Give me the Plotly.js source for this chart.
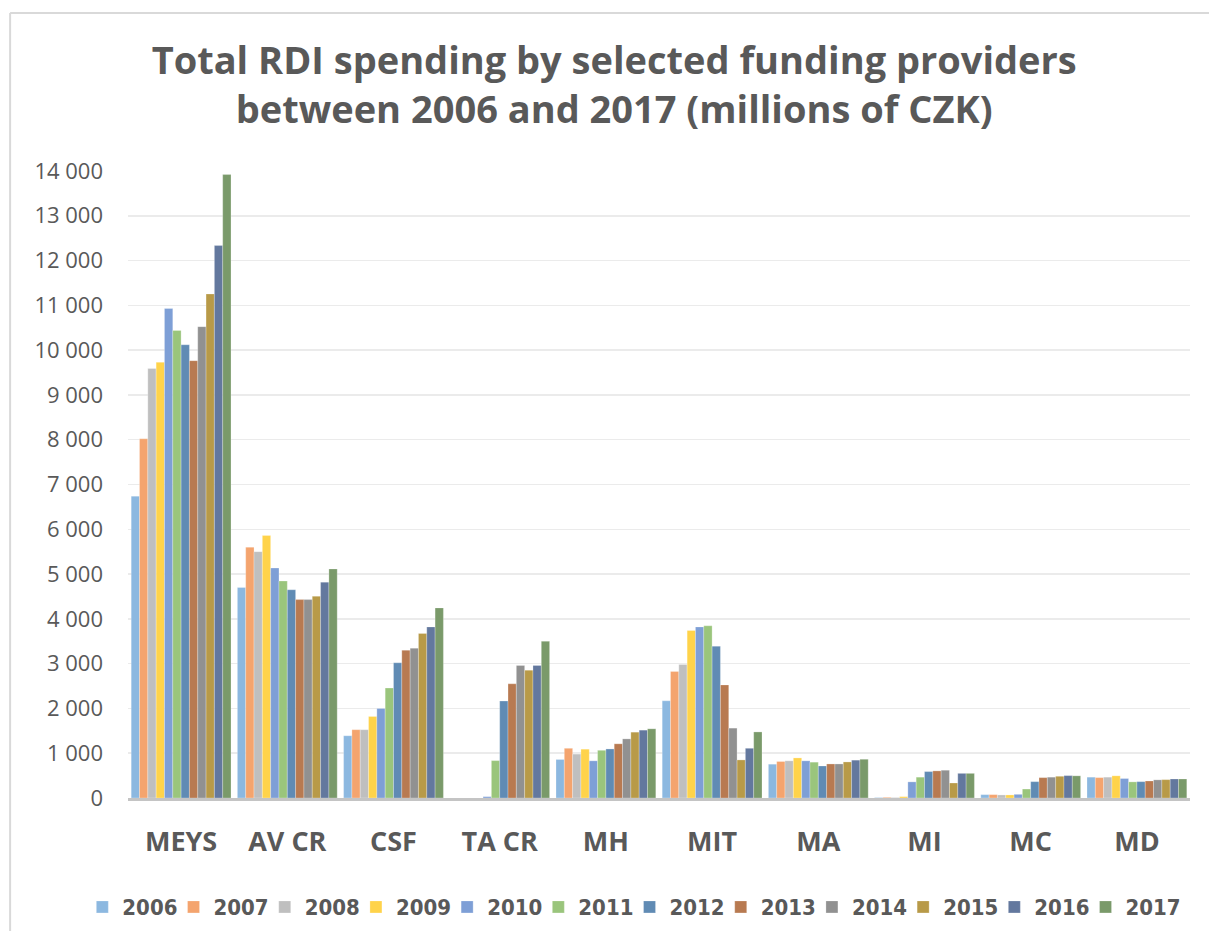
<!DOCTYPE html>
<html>
<head>
<meta charset="utf-8">
<script src="https://cdn.plot.ly/plotly-3.0.1.min.js"></script>
<style>html,body{margin:0;padding:0;background:#fff;}#chart{width:1209px;height:931px;}</style>
</head>
<body>
<div id="chart"></div>
<script>
var providers = ["MEYS", "AV CR", "CSF", "TA CR", "MH", "MIT", "MA", "MI", "MC", "MD"];
var years = ["2006", "2007", "2008", "2009", "2010", "2011", "2012", "2013", "2014", "2015", "2016", "2017"];

// values per year, in the order of providers
var y2006 = [6740, 4700, 1390, 0, 860, 2170, 755, 10, 75, 465];
var y2007 = [8020, 5600, 1525, 0, 1110, 2825, 815, 15, 75, 455];
var y2008 = [9590, 5500, 1525, 0, 980, 2980, 830, 10, 68, 465];
var y2009 = [9730, 5860, 1820, 0, 1090, 3740, 895, 30, 68, 495];
var y2010 = [10930, 5135, 2000, 30, 830, 3820, 830, 360, 82, 435];
var y2011 = [10440, 4845, 2455, 835, 1065, 3845, 800, 465, 200, 360];
var y2012 = [10120, 4650, 3020, 2165, 1095, 3390, 715, 590, 365, 365];
var y2013 = [9765, 4430, 3300, 2550, 1210, 2525, 760, 605, 455, 380];
var y2014 = [10525, 4430, 3345, 2960, 1320, 1560, 760, 620, 465, 405];
var y2015 = [11255, 4505, 3675, 2855, 1470, 850, 805, 335, 485, 410];
var y2016 = [12335, 4820, 3820, 2960, 1515, 1110, 845, 550, 500, 425];
var y2017 = [13920, 5115, 4245, 3500, 1545, 1475, 865, 550, 495, 425];

var seriesValues = [y2006, y2007, y2008, y2009, y2010, y2011, y2012, y2013, y2014, y2015, y2016, y2017];
var colors = ["#8CB8E0", "#F4A46E", "#BFBFBF", "#FFD34A", "#7E9FD6", "#9AC57C",
              "#608BB4", "#B87A51", "#919191", "#B89A48", "#63789E", "#7A9A6A"];

var traces = years.map(function (yr, i) {
  var t = {
    type: "bar",
    name: yr,
    x: providers,
    y: seriesValues[i],
    marker: { color: colors[i], line: { color: "rgba(255,255,255,0.5)", width: 0.5 } },
    hoverinfo: "x+y+name"
  };
  if (i === years.length - 1) { t.legendwidth = 62; }
  return t;
});

var textColor = "#595959";
var layout = {
  width: 1209,
  height: 931,
  paper_bgcolor: "#ffffff",
  plot_bgcolor: "#ffffff",
  separators: ". ",
  margin: { l: 128, r: 19, t: 171, b: 133, autoexpand: false },
  barmode: "group",
  bargap: 0.06,
  bargroupgap: 0,
  title: {
    text: "<b>Total RDI spending by selected funding providers<br>between 2006 and 2017 (millions of CZK)</b>",
    font: { family: "Open Sans, sans-serif", size: 38, color: textColor },
    x: 0.508,
    xanchor: "center",
    y: 0.921,
    yanchor: "top"
  },
  xaxis: {
    type: "category",
    showgrid: false,
    showline: true,
    linecolor: "#C4C4C4",
    linewidth: 2.5,
    ticks: "",
    ticklabelstandoff: 18,
    tickfont: { family: "Open Sans, sans-serif", size: 27, color: textColor, weight: "bold" },
    fixedrange: true
  },
  yaxis: {
    range: [0, 14000],
    dtick: 1000,
    tickformat: ",d",
    showgrid: true,
    gridcolor: "#EBEBEB",
    gridwidth: 1.5,
    zeroline: false,
    showline: false,
    ticks: "",
    ticklabelstandoff: 24,
    tickfont: { family: "Open Sans, sans-serif", size: 22, color: textColor },
    fixedrange: true
  },
  showlegend: true,
  legend: {
    orientation: "h",
    x: -0.043,
    xanchor: "left",
    y: -0.174,
    yanchor: "middle",
    itemwidth: 30,
    entrywidth: 46.2,
    entrywidthmode: "pixels",
    traceorder: "normal",
    font: { family: "Liberation Sans Narrow, DejaVu Sans Condensed, Arial Narrow, sans-serif", size: 22, color: textColor, weight: "bold" }
  },
  shapes: [
    { type: "line", xref: "paper", yref: "paper", x0: -0.111, x1: -0.111, y0: 1.252, y1: -0.25,
      line: { color: "#D9D9D9", width: 2 } },
    { type: "line", xref: "paper", yref: "paper", x0: -0.111, x1: 1.05, y0: 1.252, y1: 1.252,
      line: { color: "#D9D9D9", width: 2 } }
  ]
};

Plotly.newPlot("chart", traces, layout, { displayModeBar: false, staticPlot: true });
</script>
</body>
</html>
